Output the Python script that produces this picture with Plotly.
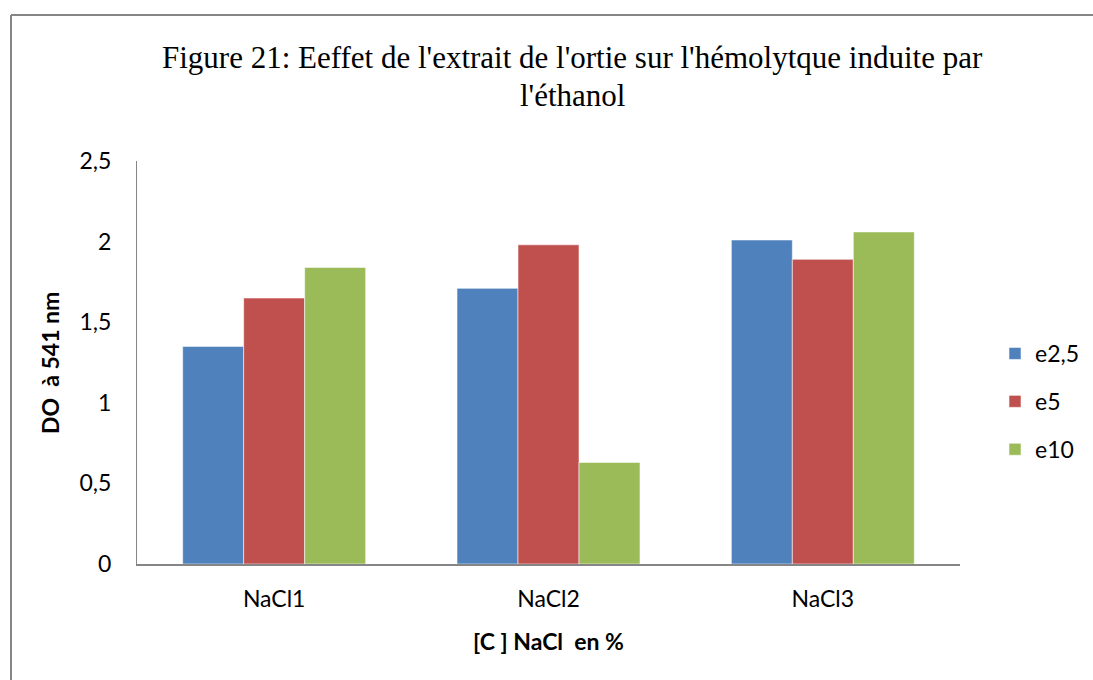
import plotly.graph_objects as go

categories = ["NaCl1", "NaCl2", "NaCl3"]
series_names = ["e2,5", "e5", "e10"]
e2_5 = [1.35, 1.71, 2.01]
e5 = [1.65, 1.98, 1.89]
e10 = [1.84, 0.63, 2.06]
colors = ["#4F81BD", "#C0504D", "#9BBB59"]
y_ticks = [0, 0.5, 1, 1.5, 2, 2.5]
y_tick_labels = ["0", "0,5", "1", "1,5", "2", "2,5"]

W, H = 1093, 680
L, R, T, B = 137, 960, 161, 564  # plot area in pixels

def px_x(p):
    return (p - L) / (R - L)

def px_y(p):
    return (B - p) / (B - T)

fig = go.Figure()
for i, (name, vals) in enumerate(zip(series_names, [e2_5, e5, e10])):
    fig.add_trace(go.Bar(
        x=categories, y=vals, name=name, legendgroup=name,
        marker=dict(color=colors[i], line=dict(color="rgba(255,255,255,0.55)", width=1)),
    ))

gray = "#868686"
fig.update_layout(
    width=W, height=H,
    margin=dict(l=L, r=W - R, t=T, b=H - B, autoexpand=False),
    paper_bgcolor="white", plot_bgcolor="white",
    barmode="group", bargap=0.333, bargroupgap=0,
    font=dict(family="Lato", size=23, color="#000000"),
    showlegend=True,
    legend=dict(
        x=px_x(995), y=px_y(332), xanchor="left", yanchor="top",
        traceorder="grouped", tracegroupgap=15,
        font=dict(family="Lato", size=23, color="#000000"),
        itemwidth=30, bgcolor="rgba(0,0,0,0)",
    ),
    xaxis=dict(
        showline=True, linecolor=gray, linewidth=2, ticks="",
        tickfont=dict(family="Lato", size=23), ticklabelstandoff=13,
        showgrid=False, zeroline=False,
    ),
    yaxis=dict(
        range=[0, 2.5], tickvals=y_ticks, ticktext=y_tick_labels,
        showline=True, linecolor=gray, linewidth=1, ticks="",
        tickfont=dict(family="Lato", size=23), ticklabelstandoff=20,
        showgrid=False, zeroline=False,
    ),
    annotations=[
        dict(text="Figure 21: Eeffet de l'extrait de l'ortie sur l'hémolytque induite par",
             xref="paper", yref="paper", x=px_x(572), y=px_y(58),
             xanchor="center", yanchor="middle", showarrow=False,
             font=dict(family="Liberation Serif", size=31, color="#000000")),
        dict(text="l'éthanol",
             xref="paper", yref="paper", x=px_x(572), y=px_y(95),
             xanchor="center", yanchor="middle", showarrow=False,
             font=dict(family="Liberation Serif", size=31, color="#000000")),
        dict(text="<b>DO\u00a0 à 541 nm</b>",
             xref="paper", yref="paper", x=px_x(50), y=px_y(363),
             xanchor="center", yanchor="middle", showarrow=False, textangle=-90,
             font=dict(family="Lato", size=23, color="#000000")),
        dict(text="<b>[C ] NaCl\u00a0 en %</b>",
             xref="paper", yref="paper", x=px_x(548), y=px_y(641),
             xanchor="center", yanchor="middle", showarrow=False,
             font=dict(family="Lato", size=23, color="#000000")),
    ],
    shapes=[
        dict(type="line", xref="paper", yref="paper",
             x0=px_x(11), x1=px_x(W + 10), y0=px_y(15), y1=px_y(15),
             line=dict(color=gray, width=2)),
        dict(type="line", xref="paper", yref="paper",
             x0=px_x(11), x1=px_x(11), y0=px_y(15), y1=px_y(H + 10),
             line=dict(color=gray, width=2)),
    ],
)

fig.write_html("out.html", config={"displayModeBar": False},
               post_script="document.body.style.margin='0px';")
